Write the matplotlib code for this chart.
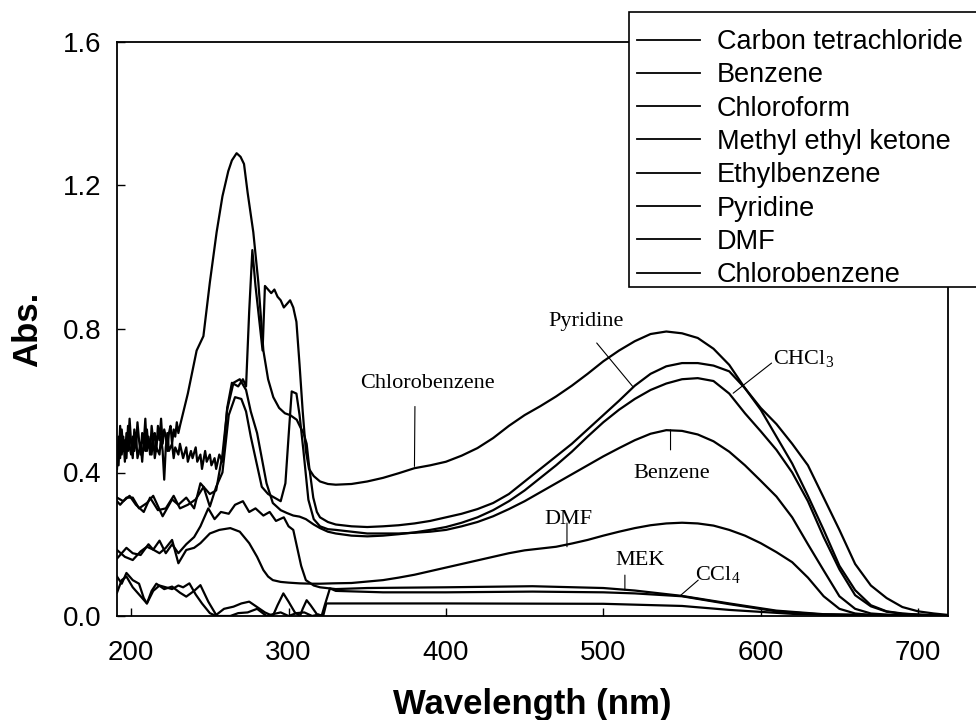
import matplotlib
matplotlib.use("Agg")
import matplotlib.pyplot as plt
from matplotlib.patches import Rectangle
from matplotlib.ticker import FormatStrFormatter

plt.rcParams["font.family"] = ["Liberation Sans", "DejaVu Sans"]
plt.rcParams["mathtext.fontset"] = "custom"
plt.rcParams["mathtext.rm"] = "Liberation Serif"

# ── spectra (wavelength nm, absorbance) ───────────────────────────────────────
vis_wl = list(range(340, 720, 10)) + [719]

wl_ccl4 = [191, 194, 197, 201, 205, 210, 213, 216, 221, 226, 231, 235, 240, 244, 249, 254,
           259, 265, 270, 275, 280, 285, 290, 293, 296.7, 300, 304, 307.3, 309, 311.5, 314,
           318, 321, 323, 326.3, 330, 360, 400, 455, 500, 520, 550, 580, 610, 640, 680, 719]
abs_ccl4 = [0.065, 0.10, 0.11, 0.08, 0.06, 0.035, 0.07, 0.09, 0.075, 0.082, 0.065, 0.054,
            0.07, 0.086, 0.04, 0.003, 0.02, 0.026, 0.035, 0.04, 0.025, 0.01, 0.0, 0.03, 0.063,
            0.04, 0.01, 0.0, 0.02, 0.044, 0.03, 0.005, 0.0, 0.03, 0.077, 0.07, 0.066, 0.066,
            0.068, 0.066, 0.063, 0.055, 0.033, 0.013, 0.004, 0.002, 0.001]

wl_benzene = [191, 195, 199, 203, 208, 212, 217, 222, 227, 231, 236, 241, 246, 250, 254, 258,
              262, 266, 270, 273, 276, 279, 283, 287, 291, 295, 298, 300, 302, 305, 307, 309.4,
              312.6, 316, 320, 325, 330] + list(range(340, 700, 10)) + [700, 719]
abs_benzene = [0.33, 0.32, 0.335, 0.31, 0.29, 0.33, 0.295, 0.30, 0.335, 0.30, 0.31, 0.325,
               0.36, 0.305, 0.36, 0.40, 0.56, 0.61, 0.605, 0.57, 0.50, 0.44, 0.36, 0.34, 0.33,
               0.32, 0.37, 0.50, 0.626, 0.62, 0.56, 0.463, 0.324, 0.27, 0.25, 0.242, 0.24,
               0.235, 0.23, 0.23, 0.23, 0.232, 0.235, 0.24, 0.25, 0.262, 0.278,
               0.298, 0.32, 0.345, 0.37, 0.395, 0.42, 0.445, 0.468, 0.49, 0.508,
               0.518, 0.516, 0.506, 0.487, 0.458, 0.42, 0.377, 0.333, 0.275, 0.20,
               0.127, 0.055, 0.02, 0.007, 0.004, 0.002, 0.001, 0.001]

wl_chcl3 = [191, 193, 197, 201, 205, 210, 214, 220, 226, 230, 235, 240, 244, 250, 254, 258,
            261, 265, 269, 273, 276, 280, 286, 290, 295, 299, 303, 307, 311, 316, 320, 325,
            330] + vis_wl
abs_chcl3 = [0.32, 0.31, 0.33, 0.33, 0.30, 0.315, 0.335, 0.278, 0.325, 0.31, 0.33, 0.30,
             0.37, 0.34, 0.35, 0.45, 0.575, 0.65, 0.66, 0.63, 0.57, 0.51, 0.37, 0.315, 0.295,
             0.287, 0.28, 0.277, 0.27, 0.255, 0.245, 0.235, 0.23,
             0.224, 0.222, 0.224, 0.228, 0.233, 0.24, 0.248, 0.26, 0.275, 0.295,
             0.32, 0.35, 0.385, 0.42, 0.458, 0.50, 0.54, 0.575, 0.605, 0.63,
             0.648, 0.66, 0.663, 0.655, 0.62, 0.565, 0.515, 0.463, 0.40, 0.32,
             0.22, 0.13, 0.058, 0.027, 0.012, 0.006, 0.004, 0.002, 0.001]

wl_mek = [191, 197, 201, 206, 211, 214, 218, 222, 226, 230, 235, 240, 244, 249, 253, 257, 262,
          266, 271, 275, 279, 284, 288, 292, 297, 300, 303, 305, 308, 311, 316, 320, 330, 350,
          400, 455, 500, 520, 550, 580, 610, 640, 680, 719]
abs_mek = [0.16, 0.19, 0.175, 0.17, 0.20, 0.185, 0.21, 0.175, 0.20, 0.175, 0.20, 0.22, 0.25,
           0.30, 0.27, 0.29, 0.285, 0.31, 0.32, 0.29, 0.30, 0.28, 0.29, 0.265, 0.275, 0.25,
           0.24, 0.20, 0.14, 0.10, 0.085, 0.08, 0.075, 0.078, 0.08, 0.083, 0.078, 0.071,
           0.056, 0.035, 0.015, 0.005, 0.002, 0.001]

wl_ethylbenzene = [191, 194, 197, 201, 205, 208, 210, 214, 218, 222, 226, 230, 233, 237, 241,
                   245, 250, 254, 258, 263, 268, 274, 280, 286, 290, 295, 300, 305, 310, 315,
                   319, 322, 324, 330, 400, 500, 550, 580, 620, 660, 719]
abs_ethylbenzene = [0.11, 0.09, 0.12, 0.10, 0.09, 0.05, 0.035, 0.07, 0.085, 0.08, 0.075,
                    0.085, 0.08, 0.091, 0.06, 0.035, 0.008, 0.0, 0.0, 0.0, 0.008, 0.01, 0.02,
                    0.0, 0.005, 0.01, 0.0, 0.008, 0.01, 0.0, 0.004, 0.0, 0.035, 0.035, 0.035,
                    0.034, 0.028, 0.017, 0.006, 0.002, 0.001]

wl_pyridine = list(range(191, 232)) + [236, 241.6, 245.9, 250, 254.3, 258, 261.7, 264, 267,
              269.5, 271.7, 274, 277.6, 280.8, 284, 287, 290.3, 294, 297.7, 301, 305.2, 307.3,
              309.5, 311.5, 313, 315.7, 318, 320, 325, 330] + vis_wl
abs_pyridine = [0.47, 0.42, 0.53, 0.45, 0.50, 0.43, 0.51, 0.46, 0.55, 0.48, 0.44, 0.52, 0.47,
                0.54, 0.49, 0.45, 0.51, 0.48, 0.55, 0.46, 0.50, 0.45, 0.53, 0.49, 0.51, 0.46,
                0.53, 0.49, 0.55, 0.48, 0.52, 0.50, 0.46, 0.51, 0.53, 0.48, 0.52, 0.50, 0.54,
                0.51, 0.53,
                0.62, 0.74, 0.78, 0.93, 1.07, 1.17, 1.24, 1.27, 1.29, 1.28,
                1.26, 1.18, 1.07, 0.93, 0.74, 0.66, 0.61, 0.58, 0.565, 0.56,
                0.547, 0.528, 0.51, 0.48, 0.42, 0.33, 0.29, 0.275, 0.262, 0.255,
                0.25, 0.248, 0.25, 0.253, 0.258, 0.265, 0.275, 0.285, 0.298, 0.315,
                0.34, 0.375, 0.41, 0.445, 0.48, 0.52, 0.56, 0.60, 0.642, 0.675,
                0.696, 0.705, 0.705, 0.698, 0.682, 0.635, 0.575, 0.50, 0.425, 0.335,
                0.24, 0.14, 0.072, 0.03, 0.013, 0.007, 0.004, 0.002, 0.001]

wl_dmf = [191, 196, 201, 206, 210, 214, 218, 222, 226, 230, 235, 240, 244, 250, 256, 263, 269,
          275, 280, 284, 287, 290, 295, 300, 307, 315, 320, 328] + list(range(340, 680, 10)) + [719]
abs_dmf = [0.184, 0.165, 0.156, 0.18, 0.193, 0.185, 0.175, 0.19, 0.212, 0.147, 0.184, 0.19,
           0.203, 0.23, 0.24, 0.245, 0.235, 0.203, 0.165, 0.128, 0.11, 0.10, 0.095, 0.093,
           0.091, 0.09, 0.09, 0.091,
           0.092, 0.096, 0.10, 0.107, 0.115, 0.125, 0.135, 0.145, 0.155, 0.165,
           0.175, 0.183, 0.188, 0.193, 0.202, 0.212, 0.224, 0.235, 0.245, 0.253,
           0.258, 0.26, 0.258, 0.252, 0.24, 0.224, 0.203, 0.178, 0.15, 0.107,
           0.055, 0.02, 0.007, 0.003, 0.001]

wl_chlorobenzene = [191, 192, 193, 194, 195, 196, 197, 198, 199, 200, 201, 202, 203, 204, 206,
                    207, 208, 209, 210, 211, 212, 213, 214, 215, 216, 218, 219, 220, 221, 222,
                    223, 224, 226, 227, 228, 230, 231, 233, 235, 236, 238, 239, 241, 242, 244,
                    245, 247, 248, 250, 251, 253, 254, 256, 258, 259, 261, 264, 268, 271, 273,
                    275, 277, 279, 281, 283.5, 285, 287, 289, 291, 293, 295, 297, 299, 301, 303,
                    305, 307, 309, 311, 313, 316, 320, 325, 330] + vis_wl
abs_chlorobenzene = [0.41, 0.50, 0.44, 0.52, 0.46, 0.49, 0.44, 0.53, 0.47, 0.45, 0.50, 0.46,
                     0.51, 0.44, 0.48, 0.43, 0.49, 0.46, 0.52, 0.47, 0.49, 0.45, 0.50, 0.44,
                     0.47, 0.45, 0.50, 0.46, 0.38, 0.47, 0.51, 0.46, 0.48, 0.44, 0.47, 0.45,
                     0.48, 0.44, 0.47, 0.43, 0.46, 0.44, 0.47, 0.43, 0.45, 0.41, 0.46, 0.43,
                     0.45, 0.42, 0.44, 0.41, 0.45, 0.43, 0.47, 0.58, 0.65, 0.64, 0.66, 0.64,
                     0.85, 1.02, 0.92, 0.84, 0.74, 0.92, 0.91, 0.90, 0.91, 0.89, 0.88, 0.86,
                     0.87, 0.88, 0.86, 0.82, 0.70, 0.57, 0.46, 0.41, 0.39, 0.375, 0.368, 0.366,
                     0.368, 0.375, 0.385, 0.398, 0.412, 0.42, 0.43, 0.447, 0.468, 0.496,
                     0.53, 0.56, 0.585, 0.612, 0.642, 0.675, 0.71, 0.74, 0.766, 0.786,
                     0.793, 0.788, 0.775, 0.745, 0.70, 0.635, 0.58, 0.535, 0.48, 0.42,
                     0.33, 0.24, 0.145, 0.085, 0.05, 0.025, 0.013, 0.007, 0.003]

names = ["Carbon tetrachloride", "Benzene", "Chloroform", "Methyl ethyl ketone",
         "Ethylbenzene", "Pyridine", "DMF", "Chlorobenzene"]
series = [(wl_ccl4, abs_ccl4), (wl_benzene, abs_benzene), (wl_chcl3, abs_chcl3),
          (wl_mek, abs_mek), (wl_ethylbenzene, abs_ethylbenzene), (wl_pyridine, abs_pyridine),
          (wl_dmf, abs_dmf), (wl_chlorobenzene, abs_chlorobenzene)]

# ── figure ─────────────────────────────────────────────────────────────────────
fig = plt.figure(figsize=(9.76, 7.2), dpi=100)
ax = fig.add_axes([117/976, 1-616/720, (948-117)/976, (616-42)/720])

for (wl, a), name in zip(series, names):
    ax.plot(wl, a, color="black", lw=1.6, label=name)

ax.set_xlim(191, 719)
ax.set_ylim(0, 1.6)
ax.set_xticks([200, 300, 400, 500, 600, 700])
ax.set_yticks([0.0, 0.4, 0.8, 1.2, 1.6])
ax.yaxis.set_major_formatter(FormatStrFormatter("%.1f"))
ax.tick_params(direction="in", length=6, width=1, labelsize=20)
ax.tick_params(axis="x", pad=17)
ax.tick_params(axis="y", pad=11)
for sp in ax.spines.values():
    sp.set_linewidth(1.3)

ax.set_xlabel("Wavelength (nm)", fontsize=25, fontweight="bold")
ax.set_ylabel("Abs.", fontsize=25, fontweight="bold")
ax.xaxis.set_label_coords(0.5, -0.125)
ax.yaxis.set_label_coords(-0.088, 0.5)

# annotations in serif, as on the scanned figure
serif = dict(family="Liberation Serif", fontsize=16, ha="center", va="center")
thin = dict(arrowstyle="-", lw=0.8, color="black", shrinkA=0, shrinkB=0)
ax.text(388.4, 0.649, "Chlorobenzene", **serif)
ax.annotate("", xy=(380.0, 0.417), xytext=(380.3, 0.584), arrowprops=thin)
ax.text(489, 0.821, "Pyridine", **serif)
ax.annotate("", xy=(519, 0.638), xytext=(495.8, 0.761), arrowprops=thin)
ax.text(627.5, 0.716, "CHCl$_{\\mathrm{3}}$", **serif)
ax.annotate("", xy=(582.5, 0.621), xytext=(606.9, 0.705), arrowprops=thin)
ax.text(543.4, 0.398, "Benzene", **serif)
ax.annotate("", xy=(542.7, 0.519), xytext=(542.7, 0.463), arrowprops=thin)
ax.text(477.7, 0.268, "DMF", **serif)
ax.annotate("", xy=(476.9, 0.193), xytext=(476.9, 0.259), arrowprops=thin)
ax.text(523.3, 0.156, "MEK", **serif)
ax.annotate("", xy=(513.7, 0.0725), xytext=(513.7, 0.114), arrowprops=thin)
ax.text(573, 0.114, "CCl$_{\\mathrm{4}}$", **serif)
ax.annotate("", xy=(548.7, 0.056), xytext=(560.3, 0.10), arrowprops=thin)

# legend box sits over the top-right corner of the frame
ax.add_patch(Rectangle((629/976, 1-287/720), (1000-629)/976, 275/720,
                       transform=fig.transFigure, facecolor="white", edgecolor="black",
                       lw=1.2, clip_on=False, zorder=4))
leg = ax.legend(loc="upper left", bbox_to_anchor=(637/976, 1-29/720),
                bbox_transform=fig.transFigure, frameon=False, fontsize=19.5,
                handlelength=2.32, handletextpad=0.63, labelspacing=0.27,
                borderpad=0, borderaxespad=0)
leg.set_zorder(5)
for h in leg.get_lines():
    h.set_linewidth(1.3)

plt.savefig("out.png", dpi=100)
plt.close()
